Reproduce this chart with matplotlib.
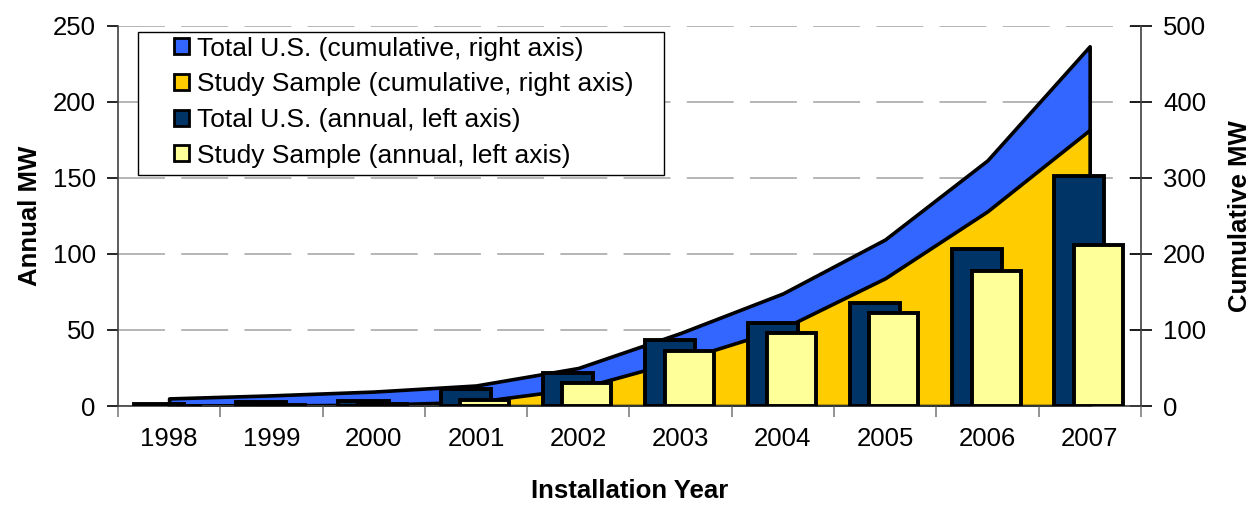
import numpy as np
import matplotlib
matplotlib.use("Agg")
import matplotlib.pyplot as plt
from matplotlib.patches import Patch, Rectangle

plt.rcParams['font.family'] = ['Liberation Sans', 'DejaVu Sans']

# ---- data ----
years = ['1998', '1999', '2000', '2001', '2002', '2003', '2004', '2005', '2006', '2007']
total_annual = [1.5, 2.5, 3.5, 11, 22, 43.5, 54.5, 67.5, 103.5, 151.5]
sample_annual = [0.2, 0.5, 1.0, 4.0, 15, 36, 48, 61, 89, 106]
total_cum = [10, 14, 19, 27, 50, 96, 148, 219, 323, 473]
sample_cum = [0.2, 0.7, 1.7, 5.5, 23, 60, 102, 168, 256, 363]

C_TOTAL_CUM = '#3366FF'
C_SAMPLE_CUM = '#FFCC00'
C_TOTAL_ANN = '#003366'
C_SAMPLE_ANN = '#FFFF99'

x = np.arange(len(years))

fig = plt.figure(figsize=(12.55, 5.05), dpi=100)
ax = fig.add_axes([0.094, 0.196, 0.815, 0.753])
ax2 = ax.twinx()

# cumulative areas on the right axis (drawn underneath)
ax2.fill_between(x, 0, total_cum, facecolor=C_TOTAL_CUM, edgecolor='black', linewidth=2.6, zorder=2)
ax2.fill_between(x, 0, sample_cum, facecolor=C_SAMPLE_CUM, edgecolor='black', linewidth=2.6, zorder=3)
ax2.set_ylim(0, 500)
ax2.set_yticks(np.arange(0, 501, 100))
ax2.yaxis.grid(True, color='#b0b0b0', linewidth=1.3, linestyle=(0, (26, 9)))
ax2.set_axisbelow(True)

# annual bars on the left axis (on top)
ax.set_zorder(ax2.get_zorder() + 1)
ax.patch.set_visible(False)
ax.bar(x - 0.1, total_annual, width=0.49, color=C_TOTAL_ANN, edgecolor='black', linewidth=2.8, zorder=3)
ax.bar(x + 0.085, sample_annual, width=0.48, color=C_SAMPLE_ANN, edgecolor='black', linewidth=2.8, zorder=4)
ax.set_ylim(0, 250)
ax.set_yticks(np.arange(0, 251, 50))
ax.set_xlim(-0.5, len(years) - 0.5)

# category ticks between years, labels at centres
ax.set_xticks(np.arange(-0.5, len(years), 1.0))
ax.set_xticklabels([])
ax.set_xticks(x, minor=True)
ax.set_xticklabels(years, minor=True)
ax.tick_params(axis='x', which='major', length=8, width=1.2, color='#808080', direction='out')
ax.tick_params(axis='x', which='minor', length=0, pad=15, labelsize=18.5)
ax.tick_params(axis='y', length=8, width=1.2, direction='out', pad=8, labelsize=18.5)
ax2.tick_params(axis='y', length=16, width=1.2, direction='inout', pad=8, labelsize=18.5)

for a in (ax, ax2):
    a.spines['top'].set_visible(False)
    for s in a.spines.values():
        s.set_linewidth(1.2)
        s.set_color('#404040')
ax.spines['right'].set_visible(False)
ax2.spines['left'].set_visible(False)
ax2.spines['bottom'].set_visible(False)

ax.set_ylabel('Annual MW', fontsize=18.5, fontweight='bold', labelpad=8)
ax2.set_ylabel('Cumulative MW', fontsize=18.5, fontweight='bold', labelpad=16)
ax.set_xlabel('Installation Year', fontsize=18.5, fontweight='bold', labelpad=20)

# legend box (Excel style: wide frame, entries inset)
ax.add_patch(Rectangle((0.0196, 0.6074), 0.5141, 0.376, transform=ax.transAxes,
                       facecolor='white', edgecolor='black', linewidth=1.0, zorder=9))
handles = [
    Patch(facecolor=C_TOTAL_CUM, edgecolor='black', linewidth=2, label='Total U.S. (cumulative, right axis)'),
    Patch(facecolor=C_SAMPLE_CUM, edgecolor='black', linewidth=2, label='Study Sample (cumulative, right axis)'),
    Patch(facecolor=C_TOTAL_ANN, edgecolor='black', linewidth=2, label='Total U.S. (annual, left axis)'),
    Patch(facecolor=C_SAMPLE_ANN, edgecolor='black', linewidth=2, label='Study Sample (annual, left axis)'),
]
leg = ax.legend(handles=handles, loc='upper left', bbox_to_anchor=(0.055, 0.971),
                fontsize=19, frameon=False, handlelength=0.55, handleheight=0.55,
                handletextpad=0.3, labelspacing=0.44, borderpad=0,
                borderaxespad=0)
leg.set_zorder(10)

fig.savefig('out.png', dpi=100)
